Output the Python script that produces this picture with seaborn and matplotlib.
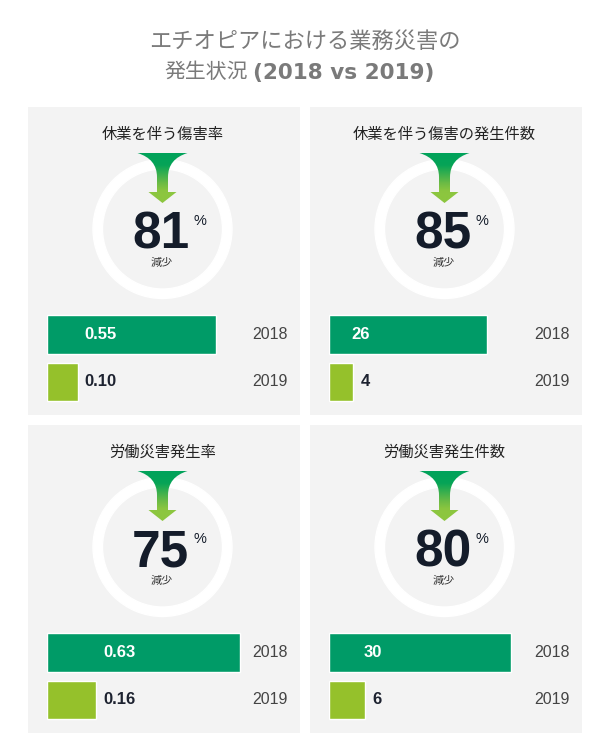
import numpy as np
import pandas as pd
import matplotlib
matplotlib.use('Agg')
import matplotlib.pyplot as plt
import seaborn as sns
from matplotlib.patches import Wedge, PathPatch
from matplotlib.path import Path
from matplotlib.colors import LinearSegmentedColormap

# data
titles = ['休業を伴う傷害率', '休業を伴う傷害の発生件数', '労働災害発生率', '労働災害発生件数']
drops = [81, 85, 75, 80]
years = ['2018', '2019']
val_2018 = [0.55, 26, 0.63, 30]
val_2019 = [0.10, 4, 0.16, 6]
fmts = ['{:.2f}', '{:d}', '{:.2f}', '{:d}']
xmax = [0.652, 32.9, 0.652, 32.9]

c18 = '#009b67'
c19 = '#95c12b'
panel_bg = '#f3f3f3'
num_font = 'Liberation Sans'

sns.set_style('white')
plt.rcParams['font.family'] = ['Noto Sans CJK JP', 'DejaVu Sans']

W, H = 610, 751
fig = plt.figure(figsize=(W / 100, H / 100), dpi=100)


def px_axes(x, y, w, h):
    return fig.add_axes([x / W, 1 - (y + h) / H, w / W, h / H])


# main title
fig.text(305 / W, 1 - 41 / H, 'エチオピアにおける業務災害の', ha='center', va='center',
         fontsize=16, color='#7a7a7a')
fig.text(164 / W, 1 - 72 / H, '発生状況', ha='left', va='center',
         fontsize=15, color='#7a7a7a')
fig.text(253 / W, 1 - 72.5 / H, '(2018 vs 2019)', ha='left', va='center',
         fontsize=15.5, color='#7a7a7a', family='DejaVu Sans', weight='bold')

grad_cm = LinearSegmentedColormap.from_list(
    'arrow', [(0, '#00a25b'), (0.25, '#06a457'), (0.6, '#6cbb45'),
              (0.75, '#8cc63f'), (1, '#8cc63f')])

for i in range(4):
    r, c = divmod(i, 2)
    px, py = [28, 310][c], [107, 425][r]

    # panel background + decorations (pixel coords inside the panel)
    ax = px_axes(px, py, 272, 308)
    ax.set_facecolor(panel_bg)
    ax.set_xticks([])
    ax.set_yticks([])
    for s in ax.spines.values():
        s.set_visible(False)

    cx, cy = 134.5, 122
    ax.add_patch(Wedge((cx, cy), 69.5, 0, 360, width=9.5, color='white', zorder=1))

    verts = [(cx - 25, 46), (cx + 25, 46),
             (cx + 5.5, 52), (cx + 5.5, 70),
             (cx + 5.5, 85), (cx + 14, 85), (cx, 96), (cx - 14, 85), (cx - 5.5, 85),
             (cx - 5.5, 70),
             (cx - 5.5, 52), (cx - 25, 46),
             (cx - 25, 46)]
    codes = [Path.MOVETO, Path.LINETO,
             Path.CURVE3, Path.CURVE3,
             Path.LINETO, Path.LINETO, Path.LINETO, Path.LINETO, Path.LINETO,
             Path.LINETO,
             Path.CURVE3, Path.CURVE3,
             Path.CLOSEPOLY]
    arrow = PathPatch(Path(verts, codes), facecolor='none', edgecolor='none')
    ax.add_patch(arrow)
    grad = np.linspace(0, 1, 256).reshape(-1, 1)
    im = ax.imshow(grad, cmap=grad_cm, extent=(cx - 26, cx + 26, 97, 45),
                   aspect='auto', interpolation='bicubic', zorder=3)
    im.set_clip_path(arrow)

    ax.set_xlim(0, 272)
    ax.set_ylim(308, 0)

    ax.text(cx, 27, titles[i], ha='center', va='center', fontsize=11, color='#222222')
    ax.text(cx - 2, 141.5, str(drops[i]), ha='center', va='baseline', fontsize=37,
            weight='bold', family=num_font, color='#141c2a', zorder=4)
    ax.text(165, 107, '%', ha='left', va='top', fontsize=10.5, family=num_font,
            color='#141c2a')
    ax.text(cx - 1, 156, '減少', ha='center', va='center', fontsize=8, color='#333333')

    ax.text(260, 227.5, years[0], ha='right', va='center', fontsize=11.5,
            family=num_font, color='#444444')
    ax.text(260, 275, years[1], ha='right', va='center', fontsize=11.5,
            family=num_font, color='#444444')

    # bars
    bax = px_axes(px + 19, py + 203.75, 200, 95)
    df = pd.DataFrame({'year': years, 'value': [val_2018[i], val_2019[i]]})
    sns.barplot(data=df, x='value', y='year', hue='year', palette=[c18, c19],
                orient='h', width=0.82, saturation=1, legend=False, ax=bax)
    bax.set_xlim(0, xmax[i])
    bax.set_ylim(1.5, -0.5)
    bax.axis('off')

    t19 = bax.annotate(fmts[i].format(val_2019[i]), xy=(val_2019[i], 1),
                       xycoords='data', xytext=(5, 0), textcoords='offset points',
                       ha='left', va='center', fontsize=12, weight='bold',
                       family=num_font, color='#1d2230')
    bax.annotate(fmts[i].format(val_2018[i]), xy=(1, 0), xycoords=(t19, 'data'),
                 ha='right', va='center', fontsize=12, weight='bold',
                 family=num_font, color='white')

fig.savefig('out.png', dpi=100, facecolor='white')
